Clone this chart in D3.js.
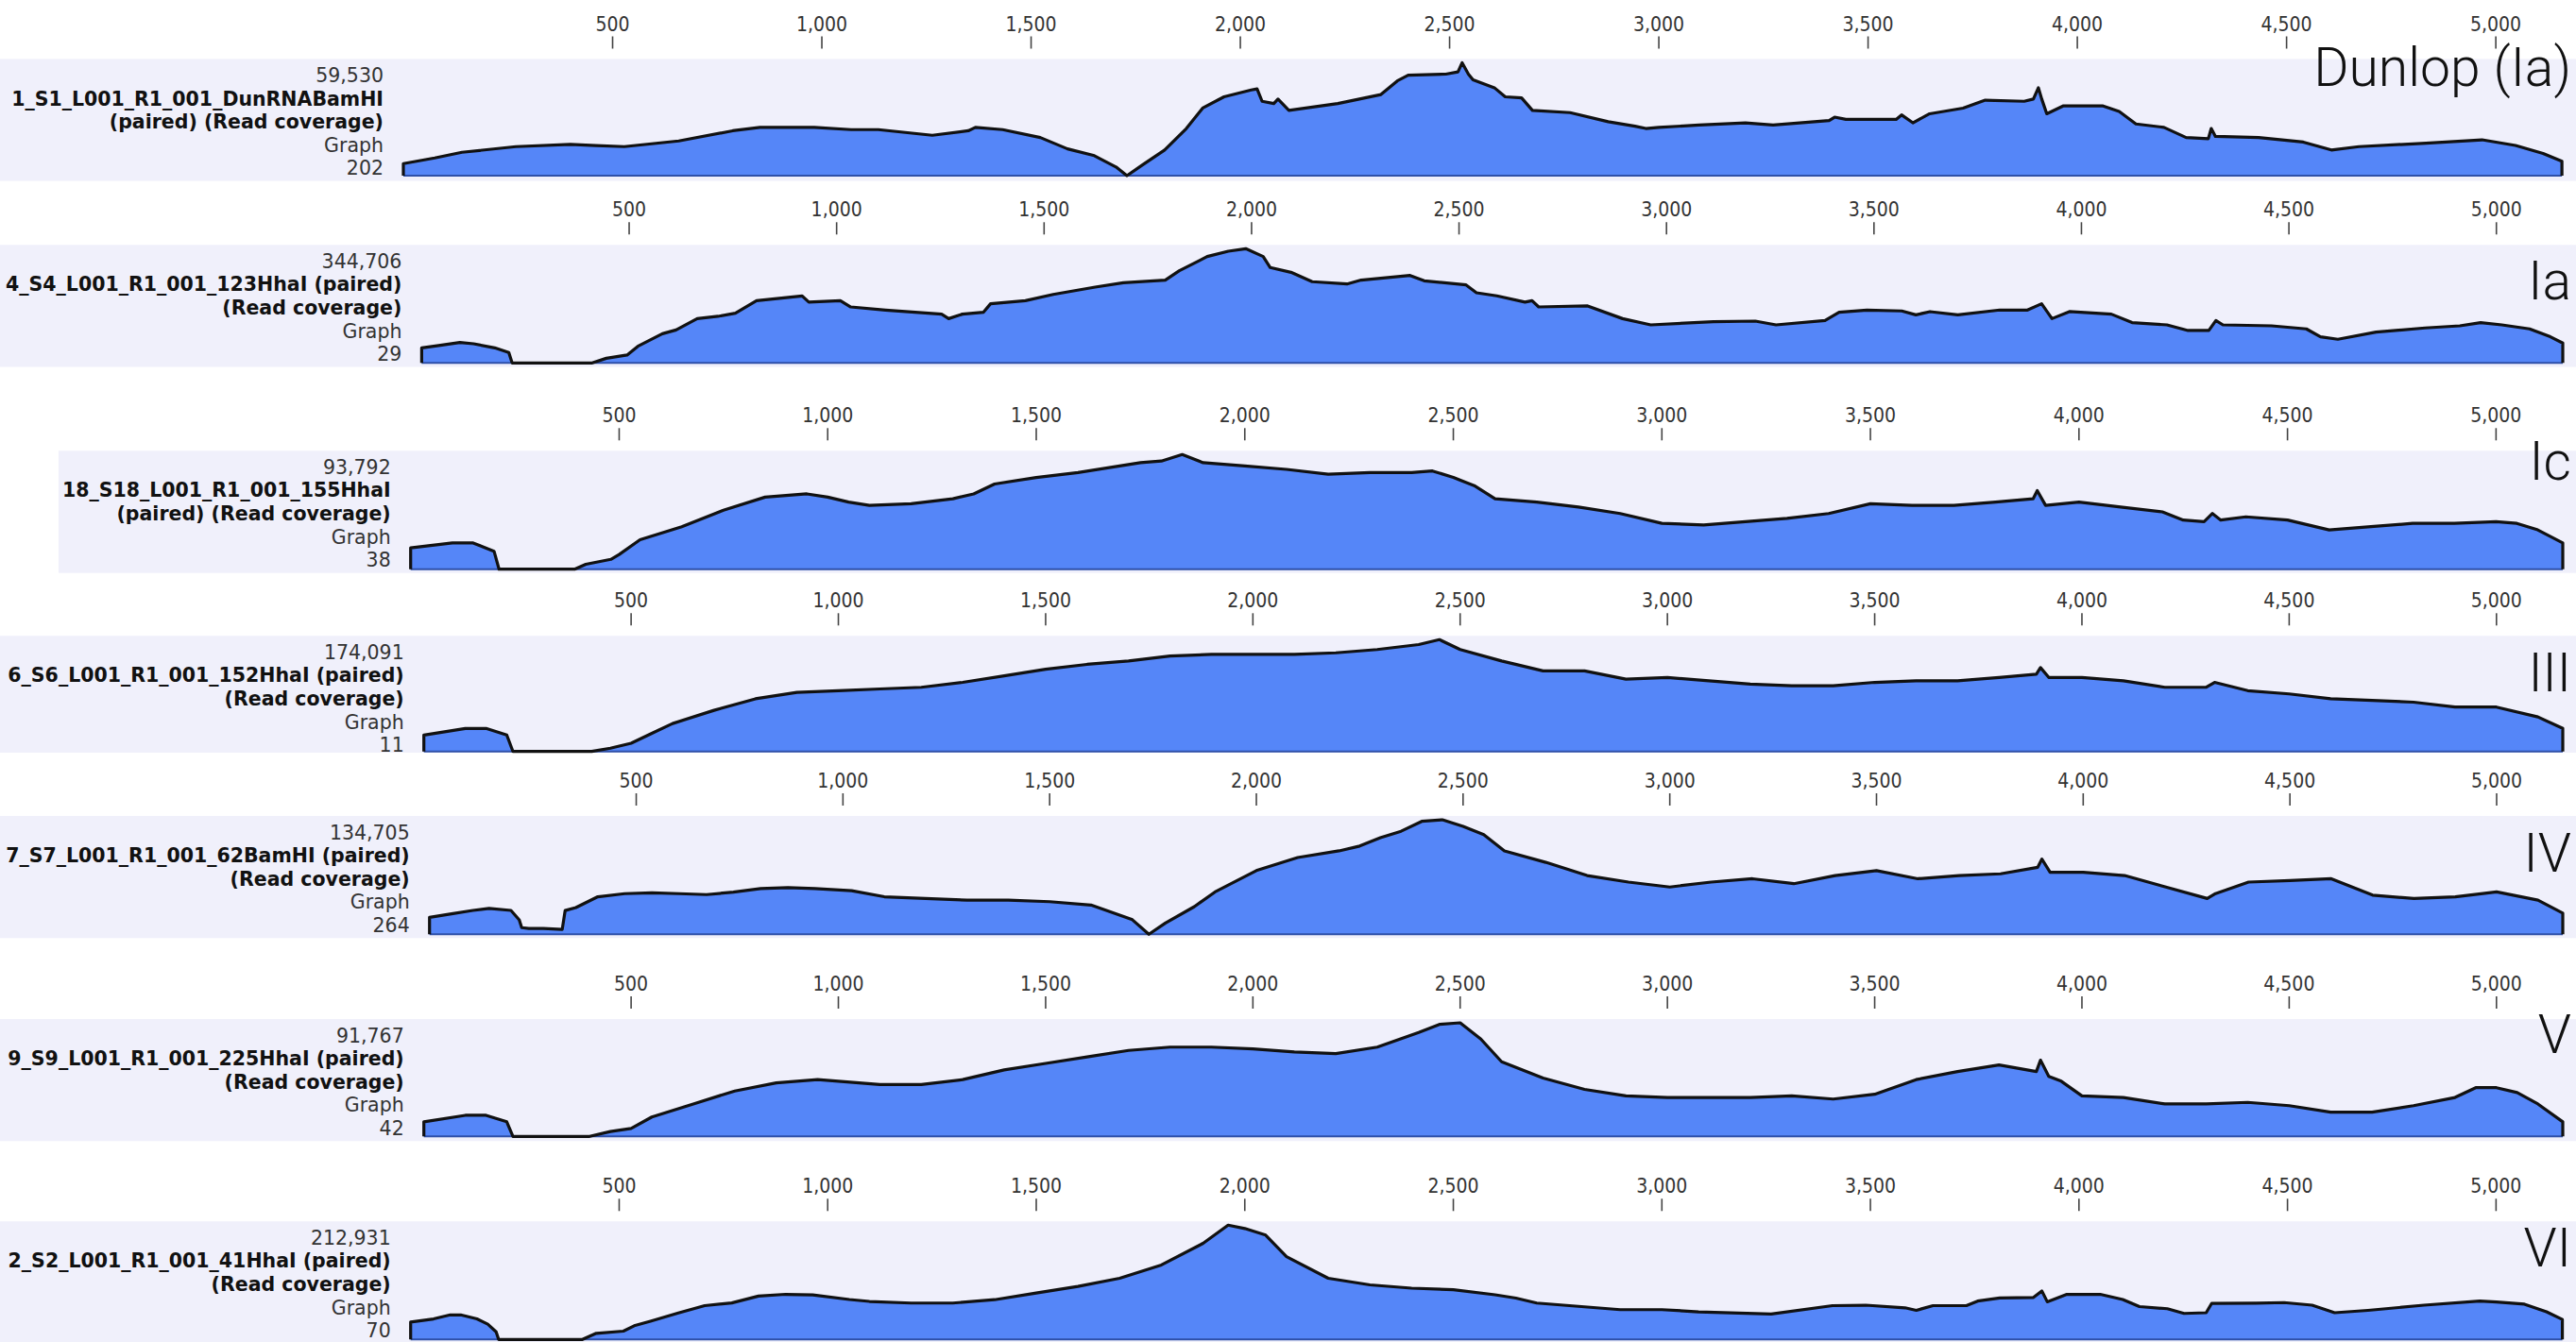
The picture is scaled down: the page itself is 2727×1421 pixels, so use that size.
<!DOCTYPE html>
<html><head><meta charset="utf-8">
<script src="https://cdn.jsdelivr.net/npm/d3@7"></script>
<style>body{margin:0;background:#fff}svg{display:block}</style>
</head><body>
<svg id="c" width="2727" height="1421"></svg>
<script>
// ---------------- DATA ----------------
const genomeLength = 5160;
const tickValues = [500, 1000, 1500, 2000, 2500, 3000, 3500, 4000, 4500, 5000];

const sampleNames = [
  ["1_S1_L001_R1_001_DunRNABamHI", "(paired) (Read coverage)"],
  ["4_S4_L001_R1_001_123HhaI (paired)", "(Read coverage)"],
  ["18_S18_L001_R1_001_155HhaI", "(paired) (Read coverage)"],
  ["6_S6_L001_R1_001_152HhaI (paired)", "(Read coverage)"],
  ["7_S7_L001_R1_001_62BamHI (paired)", "(Read coverage)"],
  ["9_S9_L001_R1_001_225HhaI (paired)", "(Read coverage)"],
  ["2_S2_L001_R1_001_41HhaI (paired)", "(Read coverage)"]
];
const maxCoverage = [59530, 344706, 93792, 174091, 134705, 91767, 212931];
const minCoverage = [202, 29, 38, 11, 264, 42, 70];
const typeLabels = ["Dunlop (Ia)", "Ia", "Ic", "III", "IV", "V", "VI"];

// [position (bp), read coverage]
const covDunlop = [[0,6550],[75,9520],[140,12500],[269,15480],[399,16670],[460,16070],[528,15480],[658,18450],[787,23810],[852,25600],[917,25600],[982,25600],[1070,24410],[1135,24410],[1264,21430],[1350,23810],[1367,25600],[1432,24410],[1522,20240],[1587,14290],[1651,10720],[1703,4760],[1729,202],[1767,5950],[1819,13690],[1871,25000],[1910,35720],[1961,41670],[2026,45240],[2040,45840],[2052,39290],[2080,38100],[2090,40480],[2116,34530],[2233,38100],[2336,42860],[2375,50010],[2401,52980],[2491,53580],[2520,54770],[2530,59530],[2545,53580],[2556,50600],[2607,46430],[2633,41670],[2672,41080],[2698,34530],[2788,33340],[2879,28570],[2943,26190],[2969,25000],[3000,25600],[3096,26790],[3207,27980],[3273,26790],[3407,29170],[3420,30960],[3447,29770],[3567,29770],[3580,32150],[3607,27980],[3647,32740],[3727,35720],[3780,39890],[3873,39290],[3895,40480],[3907,46430],[3915,40480],[3927,32740],[3967,36910],[4060,36910],[4100,33930],[4140,27380],[4207,25600],[4260,20240],[4313,19640],[4320,25000],[4330,20840],[4433,20240],[4540,17860],[4607,13690],[4673,15480],[4833,17260],[4967,19050],[5047,16070],[5113,11910],[5158,7740]];

const cov123HhaI = [[0,45500],[41,52400],[92,61700],[125,57900],[176,45500],[210,31400],[218,29],[411,29],[445,14100],[495,23800],[521,50300],[580,88200],[613,99600],[664,133700],[714,140600],[756,149900],[807,187900],[917,202300],[933,183400],[1009,187900],[1034,168900],[1118,159600],[1253,147200],[1270,133700],[1303,147200],[1354,153000],[1371,178600],[1455,187900],[1522,206800],[1623,228900],[1691,242000],[1792,249900],[1826,278200],[1893,320900],[1944,337100],[1986,344706],[2028,320900],[2045,287800],[2095,273400],[2146,245100],[2230,238200],[2264,249900],[2382,264000],[2416,247800],[2517,235400],[2542,211600],[2591,202300],[2659,183400],[2676,187900],[2692,168900],[2810,172000],[2894,133700],[2962,114800],[3113,124400],[3214,126200],[3264,114800],[3382,128200],[3416,153000],[3483,159600],[3567,156800],[3601,145100],[3635,154800],[3702,145100],[3803,159600],[3870,159600],[3904,178600],[3929,133700],[3971,154800],[4072,147200],[4122,121700],[4206,114800],[4257,97900],[4307,97900],[4324,128200],[4341,114800],[4458,112000],[4542,102700],[4576,78900],[4618,71400],[4710,93100],[4828,105500],[4912,112000],[4962,121700],[5013,114800],[5080,102700],[5130,78900],[5160,60000]];

const cov155HhaI = [[0,17450],[100,21480],[150,21480],[200,14730],[212,38],[393,38],[420,4030],[480,8070],[500,12100],[550,24100],[650,34800],[750,48210],[850,59000],[950,61620],[1000,59000],[1050,54960],[1100,52240],[1200,53560],[1300,57590],[1350,61620],[1400,69690],[1500,75030],[1600,79070],[1700,84410],[1750,87130],[1800,88450],[1850,93792],[1900,87130],[2000,84410],[2100,81690],[2200,77750],[2300,79070],[2400,79070],[2450,80380],[2500,75030],[2550,68370],[2600,57590],[2700,54960],[2800,50930],[2900,45580],[3000,37520],[3100,36200],[3200,38830],[3300,41550],[3400,45580],[3500,53560],[3600,52240],[3700,52240],[3800,54960],[3890,57590],[3900,64340],[3920,52240],[4000,54960],[4100,50930],[4200,46900],[4250,40240],[4300,38830],[4320,45580],[4340,40240],[4400,42860],[4500,40240],[4600,32170],[4700,34800],[4800,37520],[4900,37520],[5000,38830],[5050,37520],[5100,32170],[5160,21480]];

const cov152HhaI = [[0,25590],[100,35860],[150,35860],[200,25590],[215,11],[405,11],[450,5050],[500,12880],[550,28200],[600,43520],[700,64070],[800,82000],[900,92100],[1000,94700],[1100,97320],[1200,99930],[1300,107590],[1400,117690],[1500,127960],[1600,135620],[1700,140840],[1800,148500],[1900,151110],[2000,151110],[2100,151110],[2200,153550],[2300,158770],[2400,166430],[2450,174091],[2500,158770],[2600,140840],[2700,125520],[2800,125520],[2900,112640],[3000,115250],[3100,110030],[3200,104980],[3300,102370],[3400,102370],[3500,107590],[3600,110030],[3700,110030],[3800,115250],[3890,120300],[3900,130570],[3920,115250],[4000,115250],[4100,110030],[4200,99930],[4300,99930],[4320,107590],[4400,94700],[4500,89660],[4600,82000],[4700,79390],[4800,76770],[4900,69110],[5000,69110],[5100,53790],[5160,35860]];

const cov62BamHI = [[0,20210],[53,24250],[105,28290],[144,30580],[197,28290],[217,17240],[223,8080],[240,7140],[275,7140],[321,6060],[328,28150],[354,31660],[407,44320],[472,47950],[538,49030],[604,47950],[670,46880],[735,49710],[801,54020],[867,55100],[932,54020],[1021,51460],[1100,44320],[1200,42300],[1300,40410],[1400,40410],[1500,38530],[1600,34620],[1700,17380],[1740,264],[1780,13470],[1850,32730],[1900,49980],[2000,75030],[2100,90390],[2200,98200],[2250,103860],[2300,113560],[2350,121230],[2400,132820],[2450,134705],[2500,127030],[2550,117330],[2600,98200],[2700,84730],[2800,69240],[2900,61560],[3000,55770],[3100,61560],[3200,65470],[3300,59670],[3400,69240],[3500,75030],[3600,65470],[3700,69240],[3800,71260],[3890,78940],[3900,88500],[3920,73140],[4000,73140],[4100,69240],[4200,55770],[4300,42300],[4320,48090],[4400,61560],[4500,63450],[4600,65470],[4700,46200],[4800,42300],[4900,44320],[5000,49980],[5100,40410],[5160,25060]];

const cov225HhaI = [[0,11840],[100,17070],[150,17070],[200,11840],[215,42],[400,42],[450,3950],[500,6520],[550,15690],[650,26250],[750,36710],[850,43220],[950,45880],[1000,44600],[1100,41940],[1200,41940],[1300,45880],[1400,53780],[1500,59010],[1600,64240],[1700,69470],[1800,72130],[1900,72130],[2000,70750],[2100,68180],[2200,66900],[2300,72130],[2400,83880],[2450,90480],[2500,91767],[2550,78640],[2600,60290],[2700,47170],[2800,37990],[2900,32760],[3000,31480],[3100,31480],[3200,31480],[3300,32760],[3400,30190],[3500,34050],[3600,45880],[3700,52400],[3800,57720],[3890,52400],[3900,61580],[3920,48550],[3950,44600],[4000,32760],[4100,31480],[4200,26250],[4300,26250],[4400,27530],[4500,24870],[4600,19640],[4700,19640],[4800,24870],[4900,31480],[4950,39370],[5000,39370],[5050,35420],[5100,26250],[5160,11840]];

const cov41HhaI = [[0,32580],[55,38330],[95,45780],[120,45780],[159,38330],[185,28530],[205,14270],[211,70],[412,70],[445,11500],[510,15540],[536,25550],[575,34070],[640,48970],[705,63030],[770,68140],[834,80910],[899,84110],[964,83040],[1052,74530],[1100,70910],[1200,67930],[1300,67930],[1400,74100],[1500,86450],[1600,98800],[1700,114130],[1800,138830],[1900,179080],[1960,212931],[2000,206760],[2050,194410],[2100,154370],[2200,114130],[2300,101780],[2400,95610],[2500,92620],[2600,83260],[2650,77080],[2700,67930],[2800,61750],[2900,55580],[3000,55580],[3088,51530],[3262,47480],[3409,63030],[3489,63880],[3583,58980],[3610,54300],[3650,63030],[3730,63030],[3757,71550],[3810,77300],[3891,78360],[3911,90500],[3924,70270],[3971,84110],[4051,84110],[4105,74530],[4145,61320],[4212,57280],[4252,48550],[4305,49830],[4318,67070],[4425,67500],[4492,68780],[4559,63880],[4613,49830],[4693,54300],[4827,63880],[4961,71550],[5001,69840],[5068,65800],[5121,51530],[5159,37260]];

const coverageSeries = [covDunlop, cov123HhaI, cov155HhaI, cov152HhaI, cov62BamHI, cov225HhaI, cov41HhaI];

// ---------------- LAYOUT ----------------
const W = 2727, H = 1421, plotRight = 2713;
const layout = [
  {top: 62.5,   base: 186,    bottom: 191.5, left: 427,   bandLeft: 0,  typeY: 90.5},
  {top: 259.3,  base: 384.3,  bottom: 388.5, left: 446.4, bandLeft: 0,  typeY: 316.5},
  {top: 477.3,  base: 602.7,  bottom: 606.7, left: 434.7, bandLeft: 62, typeY: 507.8},
  {top: 673.3,  base: 795.7,  bottom: 797,   left: 448.7, bandLeft: 0,  typeY: 732},
  {top: 864,    base: 989.3,  bottom: 993.3, left: 454.7, bandLeft: 0,  typeY: 923},
  {top: 1079,   base: 1203.3, bottom: 1208.3,left: 448.7, bandLeft: 0,  typeY: 1114.7},
  {top: 1293.3, base: 1418.3, bottom: 1421,  left: 434.7, bandLeft: 0,  typeY: 1340.8}
];

const svg = d3.select("#c");
svg.append("rect").attr("width", W).attr("height", H).attr("fill", "#fff");
const defs = svg.append("defs");
const fmt = d3.format(",");

layout.forEach((L, i) => {
  const g = svg.append("g");
  const data = coverageSeries[i];
  const x = d3.scaleLinear().domain([0, genomeLength]).range([L.left, plotRight]);
  const y = d3.scaleLinear().domain([minCoverage[i], maxCoverage[i]]).range([L.base, L.top + 4]);

  // band
  g.append("rect").attr("x", L.bandLeft).attr("y", L.top)
    .attr("width", W - L.bandLeft).attr("height", L.bottom - L.top)
    .attr("fill", "#F0F0FB");

  defs.append("clipPath").attr("id", "clip" + i)
    .append("rect").attr("x", 0).attr("y", L.top).attr("width", W).attr("height", L.bottom - L.top);

  // ruler ticks
  const tg = g.append("g");
  tg.selectAll("line").data(tickValues).join("line")
    .attr("x1", d => x(d)).attr("x2", d => x(d))
    .attr("y1", L.top - 24).attr("y2", L.top - 11)
    .attr("stroke", "#444").attr("stroke-width", 1.6);
  tg.selectAll("text").data(tickValues).join("text")
    .attr("x", d => x(d)).attr("y", L.top - 30)
    .attr("text-anchor", "middle")
    .attr("font-family", "'DejaVu Sans Condensed', 'DejaVu Sans', sans-serif")
    .attr("font-stretch", "condensed")
    .attr("font-size", 21).attr("fill", "#333")
    .text(d => fmt(d));

  // area
  const area = d3.area().x(d => x(d[0])).y0(L.base).y1(d => y(d[1]));
  g.append("path").datum(data).attr("d", area).attr("fill", "#5586F8");
  // baseline
  g.append("line").attr("x1", L.left).attr("x2", x(data[data.length - 1][0]))
    .attr("y1", L.base).attr("y2", L.base)
    .attr("stroke", "#2E4FA8").attr("stroke-width", 2);
  // outline
  const outline = [[data[0][0], minCoverage[i]], ...data, [data[data.length - 1][0], minCoverage[i]]];
  const line = d3.line().x(d => x(d[0])).y(d => y(d[1]));
  g.append("path").datum(outline).attr("d", line)
    .attr("fill", "none").attr("stroke", "#111").attr("stroke-width", 3.2)
    .attr("stroke-linejoin", "round");

  // left labels
  const lg = g.append("g").attr("clip-path", `url(#clip${i})`)
    .attr("font-family", "'DejaVu Sans', sans-serif").attr("font-size", 20.5)
    .attr("text-anchor", "end");
  const lx = L.left - 21;
  const rows = [
    {t: fmt(maxCoverage[i]), b: false},
    {t: sampleNames[i][0], b: true},
    {t: sampleNames[i][1], b: true},
    {t: "Graph", b: false},
    {t: String(minCoverage[i]), b: false}
  ];
  rows.forEach((r, k) => {
    lg.append("text").attr("x", lx).attr("y", L.top + 24.5 + 24.6 * k)
      .attr("font-weight", r.b ? "bold" : "normal")
      .attr("fill", r.b ? "#111" : "#333")
      .text(r.t);
  });

  // type label
  g.append("text").attr("x", 2722).attr("y", L.typeY).attr("text-anchor", "end")
    .attr("font-family", "Roboto, 'Open Sans', sans-serif").attr("font-weight", 300)
    .attr("font-size", 57).attr("fill", "#111")
    .text(typeLabels[i]);
});
</script>
</body></html>
